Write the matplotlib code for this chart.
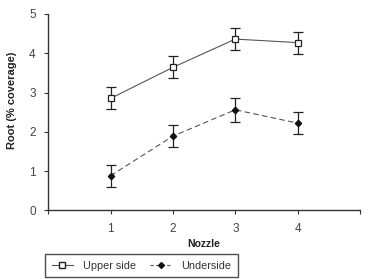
import matplotlib
matplotlib.use("Agg")
import matplotlib.pyplot as plt
from matplotlib.lines import Line2D

plt.rcParams['font.family'] = ['Liberation Sans', 'DejaVu Sans']

nozzle = [1, 2, 3, 4]
upper = [2.85, 3.64, 4.36, 4.27]
upper_err = [0.28, 0.28, 0.28, 0.28]
under = [0.88, 1.89, 2.56, 2.22]
under_err = [0.28, 0.28, 0.3, 0.28]
xticks = [0, 1, 2, 3, 4, 5]
xticklabels = ['', '1', '2', '3', '4', '']
yticks = [0, 1, 2, 3, 4, 5]

fig = plt.figure(figsize=(3.79, 2.79), dpi=100)
ax = fig.add_axes([0.127, 0.246, 0.823, 0.704])

ax.errorbar(nozzle, upper, yerr=upper_err, fmt='none', ecolor='#222222',
            elinewidth=0.9, capsize=3.6, capthick=0.9, zorder=2)
ax.plot(nozzle, upper, color='#555555', lw=0.8, ls='-', marker='s', ms=4.6,
        mfc='white', mec='#222222', mew=0.9, zorder=3)
ax.errorbar(nozzle, under, yerr=under_err, fmt='none', ecolor='#222222',
            elinewidth=0.9, capsize=3.6, capthick=0.9, zorder=2)
ax.plot(nozzle, under, color='#555555', lw=0.8, ls=(0, (5, 3)), marker='D', ms=3.2,
        mfc='#111111', mec='#111111', zorder=3)

ax.set_xlim(0, 5)
ax.set_ylim(0, 5)
ax.set_xticks(xticks)
ax.set_xticklabels(xticklabels)
ax.set_yticks(yticks)
for s in ['top', 'right']:
    ax.spines[s].set_visible(False)
for s in ['left', 'bottom']:
    ax.spines[s].set_color('#333333')
    ax.spines[s].set_linewidth(1.0)
ax.tick_params(axis='both', direction='out', length=3, width=0.8,
               labelsize=8.5, colors='#333333', labelcolor='#444444', pad=6)
ax.set_xlabel('Nozzle', fontsize=7.5, fontweight='bold', color='#222222', labelpad=3)
ax.set_ylabel('Root (% coverage)', fontsize=8, fontweight='bold', color='#222222')
ax.yaxis.set_label_coords(-0.1, 0.56)

handles = [
    Line2D([], [], color='#555555', lw=0.8, marker='s', ms=4.3, mfc='white', mec='#222222'),
    Line2D([], [], color='#555555', lw=0.8, ls=(0, (3, 2)), marker='D', ms=3,
           mfc='#111111', mec='#111111'),
]
leg = fig.legend(handles, ['Upper side', 'Underside'], loc='lower left',
                 bbox_to_anchor=(0.119, 0.007), borderaxespad=0,
                 ncol=2, fontsize=7.8, frameon=True, fancybox=False,
                 handlelength=2.0, handletextpad=0.9, columnspacing=1.3,
                 borderpad=0.6)
leg.get_frame().set_edgecolor('#222222')
leg.get_frame().set_linewidth(1.0)
for t in leg.get_texts():
    t.set_color('#333333')

fig.savefig('out.png', dpi=100)
